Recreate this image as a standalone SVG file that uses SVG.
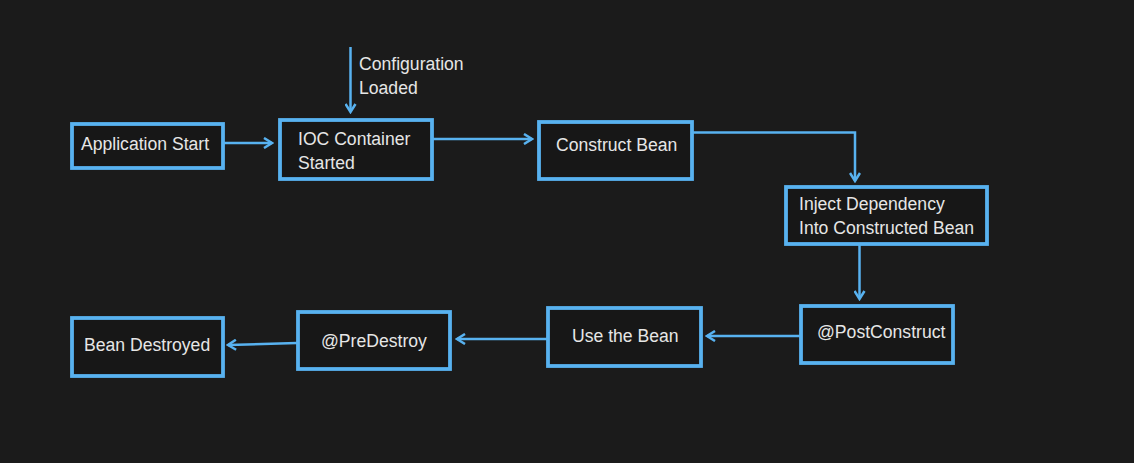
<svg xmlns="http://www.w3.org/2000/svg" width="1134" height="463" viewBox="0 0 1134 463">
<defs>
<style>
.box{fill:#171717;stroke:#58b2f0;stroke-width:3.8}
.t{font-family:"Liberation Sans",Arial,sans-serif;font-size:17.6px;fill:#e6e6e6}
.c{fill:none;stroke:#58b2f0;stroke-width:2.5}
</style>
<marker id="ah" viewBox="0 0 12 12" refX="10" refY="6" markerWidth="12" markerHeight="12" markerUnits="userSpaceOnUse" orient="auto">
<path d="M2,1 L10,6 L2,11" fill="none" stroke="#58b2f0" stroke-width="2.5"/>
</marker>
</defs>
<rect width="1134" height="463" fill="#1b1b1b"/>
<g id="connectors">
<line class="c" x1="350.5" y1="47" x2="350.5" y2="112" marker-end="url(#ah)"/>
<line class="c" x1="224" y1="143" x2="272" y2="143" marker-end="url(#ah)"/>
<line class="c" x1="433" y1="139" x2="532" y2="139" marker-end="url(#ah)"/>
<polyline class="c" points="693,132.5 855,132.5 855,181" marker-end="url(#ah)"/>
<line class="c" x1="859.5" y1="245" x2="859.5" y2="299" marker-end="url(#ah)"/>
<line class="c" x1="800" y1="336" x2="707" y2="336" marker-end="url(#ah)"/>
<line class="c" x1="547" y1="339" x2="457" y2="339" marker-end="url(#ah)"/>
<line class="c" x1="297" y1="343" x2="228" y2="345" marker-end="url(#ah)"/>
</g>
<text class="t" x="359" y="70">Configuration</text>
<text class="t" x="359" y="94">Loaded</text>
<g id="app-start">
<rect class="box" x="72" y="124" width="151" height="44"/>
<text class="t" x="81" y="150">Application Start</text>
</g>
<g id="ioc">
<rect class="box" x="280" y="120" width="152" height="59"/>
<text class="t" x="298" y="145">IOC Container</text>
<text class="t" x="298" y="169">Started</text>
</g>
<g id="construct">
<rect class="box" x="539" y="122" width="153" height="57"/>
<text class="t" x="556" y="151">Construct Bean</text>
</g>
<g id="inject">
<rect class="box" x="786" y="187" width="201" height="57"/>
<text class="t" x="799" y="210">Inject Dependency</text>
<text class="t" x="799" y="234">Into Constructed Bean</text>
</g>
<g id="postconstruct">
<rect class="box" x="801" y="306" width="152" height="57"/>
<text class="t" x="817" y="338">@PostConstruct</text>
</g>
<g id="use">
<rect class="box" x="548" y="308" width="153" height="58"/>
<text class="t" x="572" y="342">Use the Bean</text>
</g>
<g id="predestroy">
<rect class="box" x="298" y="312" width="152" height="57"/>
<text class="t" x="321" y="347">@PreDestroy</text>
</g>
<g id="destroyed">
<rect class="box" x="72" y="318" width="151" height="58"/>
<text class="t" x="84" y="351">Bean Destroyed</text>
</g>
</svg>
